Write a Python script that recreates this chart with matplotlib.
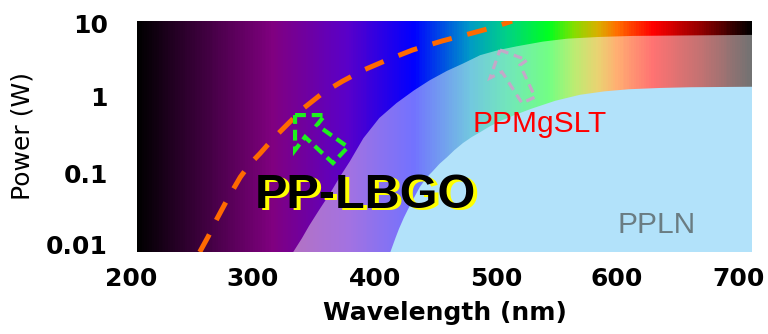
import numpy as np
import matplotlib
matplotlib.use("Agg")
import matplotlib.pyplot as plt
from matplotlib.colors import LinearSegmentedColormap
from matplotlib.patches import Polygon
import matplotlib.transforms as mtransforms

plt.rcParams['font.family'] = ['Liberation Sans', 'DejaVu Sans']

# ---- data ----
spec_nm = [200, 310, 370, 425, 470, 500, 535, 555, 575, 590, 620, 660, 700]
spec_colors = ['#000000', '#800080', '#5a00c8', '#0000ff', '#0098c8', '#00d088',
               '#00ff20', '#80e000', '#d8b000', '#ff7000', '#ff0000', '#900000', '#000000']

slt_nm = [327, 334, 340, 348, 357, 365, 373, 384, 397, 411, 425, 438, 452, 465, 479, 494,
          509, 530, 550, 575, 603, 650, 700]
slt_w = [0.01, 0.015, 0.022, 0.035, 0.058, 0.095, 0.15, 0.3, 0.55, 0.86, 1.25, 1.7, 2.25,
         2.8, 3.6, 4.2, 4.7, 5.4, 5.9, 6.2, 6.4, 6.5, 6.6]

ppln_nm = [406, 410, 413, 417, 420, 425, 430, 436, 440, 446, 452, 458, 465, 472, 479, 487,
           495, 507, 520, 540, 560, 580, 600, 625, 650, 700]
ppln_w = [0.01, 0.015, 0.02, 0.028, 0.035, 0.05, 0.07, 0.095, 0.11, 0.14, 0.17, 0.21, 0.26,
          0.31, 0.36, 0.43, 0.5, 0.6, 0.72, 0.92, 1.1, 1.22, 1.3, 1.35, 1.38, 1.4]

lbgo_nm = [251, 258, 265, 274, 284, 292, 300, 311, 322, 336, 351, 367, 384, 403, 424,
           448, 473, 490, 505]
lbgo_w = [0.01, 0.016, 0.027, 0.05, 0.094, 0.14, 0.19, 0.3, 0.45, 0.75, 1.16, 1.65, 2.3,
          3.1, 4.2, 5.5, 7.0, 8.3, 10.0]

green_arrow_nm = [328.5, 352.8, 346.3, 371.5, 359.3, 336.6, 328.5]
green_arrow_w = [0.60, 0.60, 0.446, 0.231, 0.143, 0.312, 0.211]

pink_arrow_nm = [495.1, 517.1, 511.4, 523.6, 513.0, 496.7, 487.0]
pink_arrow_w = [4.2, 3.11, 2.68, 1.03, 0.86, 2.18, 1.82]

x_ticks = [200, 300, 400, 500, 600, 700]
x_ticklabels = ['200', '300', '400', '500', '600', '700']
y_ticks = [0.01, 0.1, 1, 10]
y_ticklabels = ['0.01', '0.1', '1', '10']

# ---- figure ----
fig = plt.figure(figsize=(7.68, 3.34), dpi=100)
ax = fig.add_axes([137/768, 82/334, 615/768, 231/334])
ax.set_yscale('log')
ax.set_xlim(200, 700)
ax.set_ylim(0.01, 10)

# spectrum background
stops = [(n - 200) / 500 for n in spec_nm]
cmap = LinearSegmentedColormap.from_list('spec', list(zip(stops, spec_colors)))
xg = np.linspace(200, 700, 501)
yg = np.array([0.01, 10])
C = ((xg[:-1] + xg[1:]) / 2)[None, :]
ax.pcolormesh(xg, yg, C, cmap=cmap, vmin=200, vmax=700, shading='flat',
              rasterized=True, zorder=0)

# PPMgSLT region (washed)
ax.fill_between(slt_nm, 0.01, slt_w, facecolor='white', alpha=0.45,
                edgecolor='none', zorder=1)
# PPLN region
ax.fill_between(ppln_nm, 0.01, ppln_w, facecolor='#b2e2fa',
                edgecolor='none', zorder=2)

# PP-LBGO dashed curve
ax.plot(lbgo_nm, lbgo_w, color='#ff6a00', lw=3.6, dashes=(4, 3.2),
        dash_capstyle='butt', zorder=4)

# arrows
ax.add_patch(Polygon(np.column_stack([green_arrow_nm, green_arrow_w]), closed=True,
                     fill=False, edgecolor='#1ef01e', lw=3.0, linestyle=(0, (2.6, 1.4)),
                     zorder=5))
ax.add_patch(Polygon(np.column_stack([pink_arrow_nm, pink_arrow_w]), closed=True,
                     fill=False, edgecolor='#c4a8c8', lw=2.3, linestyle=(0, (2.8, 1.8)),
                     zorder=5))

# texts
shadow = mtransforms.offset_copy(ax.transData, fig=fig, x=4.5, y=-1.8, units='dots')
ax.text(385.4, 0.0373, 'PP-LBGO', transform=shadow, ha='center', va='baseline',
        fontsize=35, fontweight='bold', color='#ffff00', zorder=6)
ax.text(385.4, 0.0373, 'PP-LBGO', ha='center', va='baseline',
        fontsize=35, fontweight='bold', color='black', zorder=7)
ax.text(527.6, 0.362, 'PPMgSLT', ha='center', va='baseline', fontsize=21.5,
        color='#ff0000', zorder=6)
ax.text(622.4, 0.0177, 'PPLN', ha='center', va='baseline', fontsize=21.5,
        color='#6a7c82', zorder=6)

# axes styling
for s in ax.spines.values():
    s.set_visible(False)
ax.set_xticks(x_ticks)
ax.set_xticklabels(x_ticklabels)
ax.set_yticks(y_ticks)
ax.set_yticklabels(y_ticklabels)
ax.yaxis.set_minor_locator(matplotlib.ticker.NullLocator())
ax.tick_params(axis='both', length=0, labelsize=18)
ax.tick_params(axis='x', pad=11)
ax.tick_params(axis='y', pad=21)
for lab in ax.get_xticklabels() + ax.get_yticklabels():
    lab.set_fontweight('bold')
    lab.set_family('DejaVu Sans')
ax.set_xlabel('Wavelength (nm)', fontsize=18, fontweight='bold', labelpad=7,
              family='DejaVu Sans')
ax.set_ylabel('Power (W)', fontsize=18, labelpad=8, family='DejaVu Sans')

# small label offsets (pixels) to follow the reference placement
x_shift = [-6, -7, -8, -10, -12, -13]
y_shift = [8, 1.5, 1.5, -2.5]
for lab, dx in zip(ax.get_xticklabels(), x_shift):
    lab.set_transform(lab.get_transform() +
                      mtransforms.ScaledTranslation(dx / 100, 0, fig.dpi_scale_trans))
for lab, dy in zip(ax.get_yticklabels(), y_shift):
    lab.set_transform(lab.get_transform() +
                      mtransforms.ScaledTranslation(0, dy / 100, fig.dpi_scale_trans))

fig.savefig('out.png', dpi=100)
